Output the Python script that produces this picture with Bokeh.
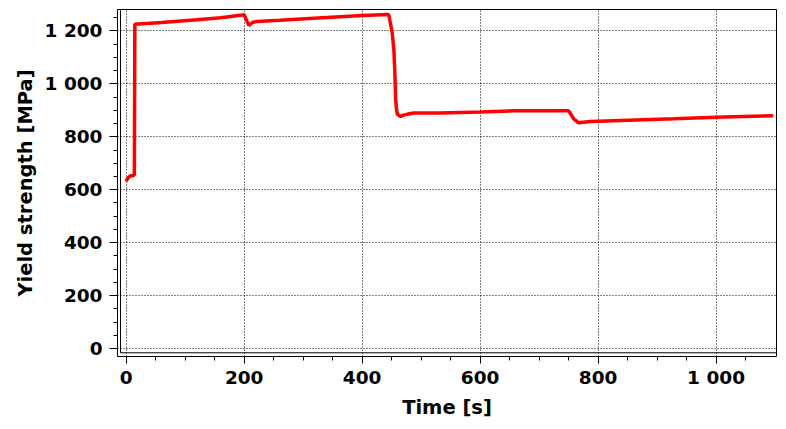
from bokeh.plotting import figure
from bokeh.models import (Range1d, BoxAnnotation, CustomJSTickFormatter, SingleIntervalTicker)
from bokeh.embed import file_html
from bokeh.resources import INLINE

# ---- data ----
time_s = [0, 3, 7, 13, 13.8, 14.6, 60, 120, 160, 197, 200, 204, 208, 213.7, 222, 260, 318, 400, 445,
          448, 451, 453.8, 455.5, 456.8, 458.4, 460, 465, 470, 476.6, 487, 532, 600, 657, 750, 754,
          758.6, 763, 767, 787, 826, 928, 1013, 1097]
yield_mpa = [632, 645, 652, 655, 655, 1225, 1232, 1242, 1250, 1260, 1261, 1240, 1221, 1232, 1236, 1240,
             1248, 1258, 1262, 1229, 1192, 1128, 1040, 940, 902, 884, 877, 882, 885, 890, 890, 894, 898,
             898, 885, 868, 860, 853, 858, 861, 868, 875, 880]

x_ticks = [0, 200, 400, 600, 800, 1000]
y_ticks = [0, 200, 400, 600, 800, 1000, 1200]

FONT = "DejaVu Sans"

p = figure(width=778, height=421, output_backend="svg", toolbar_location=None,
           x_range=Range1d(-14.8, 1102.5), y_range=Range1d(-30, 1281),
           min_border_left=117, min_border_right=2, min_border_top=9, min_border_bottom=62)

p.background_fill_color = "white"
p.border_fill_color = "white"
p.outline_line_color = "black"
p.outline_line_width = 1

# inner frame box (detached from the axes)
p.add_layout(BoxAnnotation(left=-9.7, bottom=-16, right=1102.5, top=1281,
                           fill_alpha=0, fill_color=None, line_color="black", line_width=1,
                           line_alpha=1.0))

p.line(time_s, yield_mpa, line_color="#ff0000", line_width=3.5)

fmt = CustomJSTickFormatter(code="return tick.toFixed(0).replace(/\\B(?=(\\d{3})+(?!\\d))/g, ' ');")

for ax in (p.xaxis[0], p.yaxis[0]):
    ax.ticker = SingleIntervalTicker(interval=200, num_minor_ticks=4)
    ax.formatter = fmt
    ax.axis_line_color = "black"
    ax.axis_line_width = 1
    ax.major_tick_in = 0
    ax.minor_tick_in = 0
    ax.major_tick_line_color = "black"
    ax.minor_tick_line_color = "black"
    ax.major_label_text_font = FONT
    ax.major_label_text_font_style = "bold"
    ax.major_label_text_font_size = "18.5px"
    ax.major_label_text_color = "black"
    ax.axis_label_text_font = FONT
    ax.axis_label_text_font_style = "bold"
    ax.axis_label_text_font_size = "19.5px"
    ax.axis_label_text_color = "black"

p.xaxis.major_tick_out = 7
p.xaxis.minor_tick_out = 4
p.yaxis.major_tick_out = 8
p.yaxis.minor_tick_out = 4
p.xaxis.bounds = (-13, 1095)
p.yaxis.bounds = (-5, 1264)
p.xaxis.major_label_standoff = 3
p.yaxis.major_label_standoff = 7
p.xaxis.axis_label = "Time [s]"
p.yaxis.axis_label = "Yield strength [MPa]"
p.xaxis.axis_label_standoff = 5
p.yaxis.axis_label_standoff = 5

for g in (p.xgrid[0], p.ygrid[0]):
    g.grid_line_color = "black"
    g.grid_line_width = 1
    g.grid_line_dash = "1 2"

open("out.html", "w").write(file_html(p, INLINE))
